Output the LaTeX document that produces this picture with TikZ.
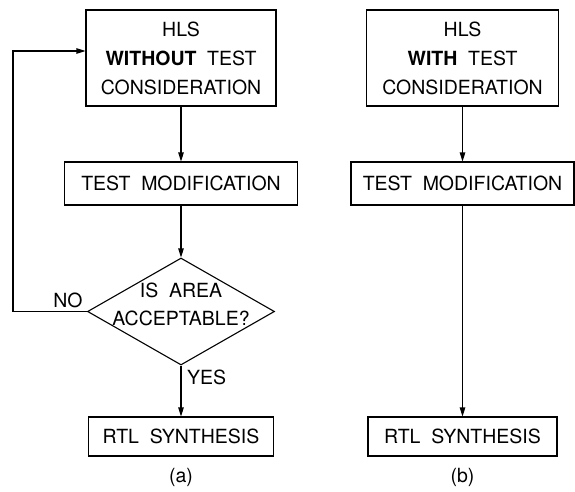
\documentclass[tikz,border=0pt]{standalone}
\usepackage{fontspec}
\setmainfont{TeX Gyre Heros}
\usetikzlibrary{shapes.geometric,arrows.meta}

\newcommand{\flowfont}{\fontsize{19.5}{29}\selectfont\spaceskip=0.55em plus 0.1em\relax}
\newcommand{\askfont}{\fontsize{19.5}{28}\selectfont\spaceskip=0.55em plus 0.1em\relax}

\begin{document}
\begin{tikzpicture}[x=1pt,y=-1pt,
  box/.style={draw, line width=1.1pt, inner sep=0pt, align=center, font=\flowfont},
  decision/.style={diamond, draw, line width=1.1pt, inner sep=0pt,
    minimum width=187pt, minimum height=107pt},
  flow/.style={line width=1.1pt, -{Triangle[length=9pt,width=5.5pt]}},
  lbl/.style={font=\flowfont, inner sep=0pt, align=center}]
\useasboundingbox (0,0) rectangle (575,492);

% (a) flow with area check loop
\node[box, minimum width=190pt, minimum height=96pt] (a1) at (181,58)
  {HLS\\\textbf{WITHOUT} TEST\\CONSIDERATION};
\node[box, minimum width=233pt, minimum height=43pt] (a2) at (181,183.5)
  {TEST MODIFICATION};
\node[decision] (d) at (181,311.5) {};
\node[lbl, font=\askfont] (dtext) at ([yshift=7pt]d.center)
  {IS AREA\\ACCEPTABLE?};
\node[box, minimum width=185pt, minimum height=39pt] (a3) at (181,436.5)
  {RTL SYNTHESIS};
\node[lbl] (capa) at (181,477) {(a)};

\coordinate (fbbot) at (13,311.5);
\coordinate (fbtop) at (13,51);
\draw[flow] (a1) -- (a2);
\draw[flow] (a2) -- (d);
\draw[flow] (d) -- (a3);
\draw[flow] (d.west) -- (fbbot) -- (fbtop) -- (fbtop -| a1.west);
\node[lbl] (no) at (68,300.5) {NO};
\node[lbl, anchor=west] (yes) at (187,377) {YES};

% (b) flow with test considered during HLS
\node[box, minimum width=192pt, minimum height=96pt] (b1) at (462.5,58)
  {HLS\\\textbf{WITH} TEST\\CONSIDERATION};
\node[box, minimum width=223pt, minimum height=43pt] (b2) at (462.5,183.5)
  {TEST MODIFICATION};
\node[box, minimum width=189pt, minimum height=39pt] (b3) at (462.5,436.5)
  {RTL SYNTHESIS};
\node[lbl] (capb) at (462.5,477) {(b)};

\draw[flow] (b1) -- (b2);
\draw[flow] (b2) -- (b3);
\end{tikzpicture}
\end{document}
